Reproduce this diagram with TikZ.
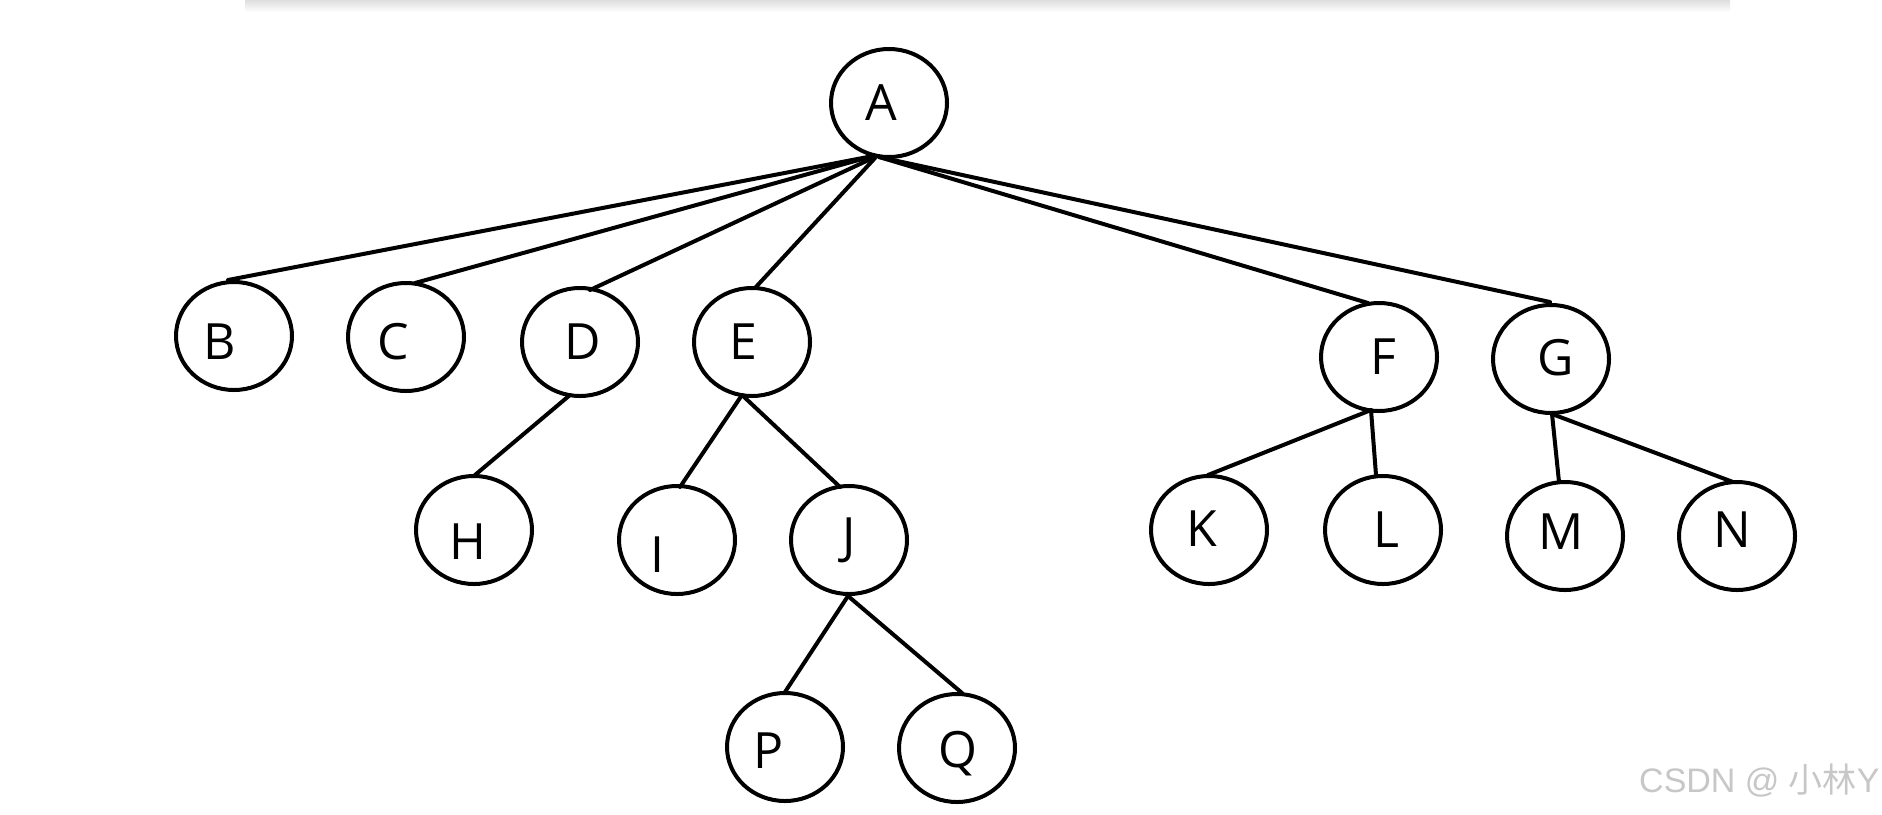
\documentclass[tikz,border=0pt]{standalone}
\usepackage{fontspec}
\setmainfont{Open Sans}
\newfontfamily\wmfont{Liberation Sans}
\newfontfamily\cjkfont{Noto Sans CJK SC}
\usetikzlibrary{shapes.geometric,calc}
\tikzset{
  tnode/.style={ellipse, draw=black, line width=2pt, minimum width=58pt, minimum height=54pt, inner sep=0pt},
  tlbl/.style={inner sep=0pt, font=\fontsize{25}{25}\selectfont},
  tedge/.style={draw=black, line width=2pt, line cap=round}
}
\begin{document}
\begin{tikzpicture}[x=0.5pt,y=-0.5pt]
\useasboundingbox (0,0) rectangle (1882,814);
\fill[white] (0,0) rectangle (1882,814);
\shade[top color=black!14, bottom color=white] (245,-1) rectangle (1730,12);
% nodes
\node[tnode, label={[tlbl,xshift=-3.6pt]center:A}] (A) at (889,103) {};
\node[tnode, label={[tlbl,xshift=-7.2pt,yshift=-3pt]center:B}] (B) at (234,336) {};
\node[tnode, label={[tlbl,xshift=-6.6pt,yshift=-2.4pt]center:C}] (C) at (406,337) {};
\node[tnode, label={[tlbl,xshift=1.2pt]center:D}] (D) at (580,342) {};
\node[tnode, label={[tlbl,xshift=-4.2pt]center:E}] (E) at (752,342) {};
\node[tnode, label={[tlbl,xshift=2.4pt]center:F}] (F) at (1379,357) {};
\node[tnode, label={[tlbl,xshift=2.4pt,yshift=0.6pt]center:G}] (G) at (1551,359) {};
\node[tnode, label={[tlbl,xshift=-3pt,yshift=-6pt]center:H}] (H) at (474,530) {};
\node[tnode, label={[tlbl,xshift=-9.6pt,yshift=-7.2pt]center:I}] (I) at (677,540) {};
\node[tnode, label={[tlbl]center:J}] (J) at (849,540) {};
\node[tnode, label={[tlbl,xshift=-3.6pt,yshift=0.6pt]center:K}] (K) at (1209,530) {};
\node[tnode, label={[tlbl,xshift=1.8pt]center:L}] (L) at (1383,530) {};
\node[tnode, label={[tlbl,xshift=-1.8pt,yshift=2.4pt]center:M}] (M) at (1565,536) {};
\node[tnode, label={[tlbl,xshift=-2.4pt,yshift=3pt]center:N}] (N) at (1737,536) {};
\node[tnode, label={[tlbl,xshift=-8.4pt,yshift=-1.8pt]center:P}] (P) at (785,747) {};
\node[tnode, label={[tlbl,xshift=0.6pt,yshift=-3pt]center:Q}] (Q) at (957,748) {};
% edges
\draw[tedge] ($(A)+(-16,53)$) -- ($(B)+(-6,-56)$);
\draw[tedge] ($(A)+(-16,53)$) -- ($(C)+(9,-54)$);
\draw[tedge] ($(A)+(-14,54)$) -- ($(D)+(10,-52)$);
\draw[tedge] ($(A)+(-14,55)$) -- ($(E)+(3,-54)$);
\draw[tedge] ($(A)+(-10,54)$) -- ($(F)+(-11,-54)$);
\draw[tedge] ($(A)+(-10,54)$) -- ($(G)+(-1,-57)$);
\draw[tedge] ($(D)+(-10,53)$) -- ($(H)+(1,-55)$);
\draw[tedge] ($(E)+(-10,53)$) -- ($(I)+(3,-53)$);
\draw[tedge] ($(E)+(-10,53)$) -- ($(J)+(-9,-53)$);
\draw[tedge] ($(J)+(-1,56)$) -- ($(P)+(0,-55)$);
\draw[tedge] ($(J)+(-1,56)$) -- ($(Q)+(5,-55)$);
\draw[tedge] ($(F)+(-8,53)$) -- ($(K)+(-1,-55)$);
\draw[tedge] ($(F)+(-8,53)$) -- ($(L)+(-7,-55)$);
\draw[tedge] ($(G)+(1,55)$) -- ($(M)+(-6,-54)$);
\draw[tedge] ($(G)+(1,55)$) -- ($(N)+(-4,-54)$);
% watermark
\node[anchor=east, text=black!22, inner sep=0pt, font=\fontsize{17}{17}\selectfont] (wm) at (1880,781) {\wmfont CSDN @ \cjkfont 小林\wmfont Y};
\end{tikzpicture}
\end{document}
